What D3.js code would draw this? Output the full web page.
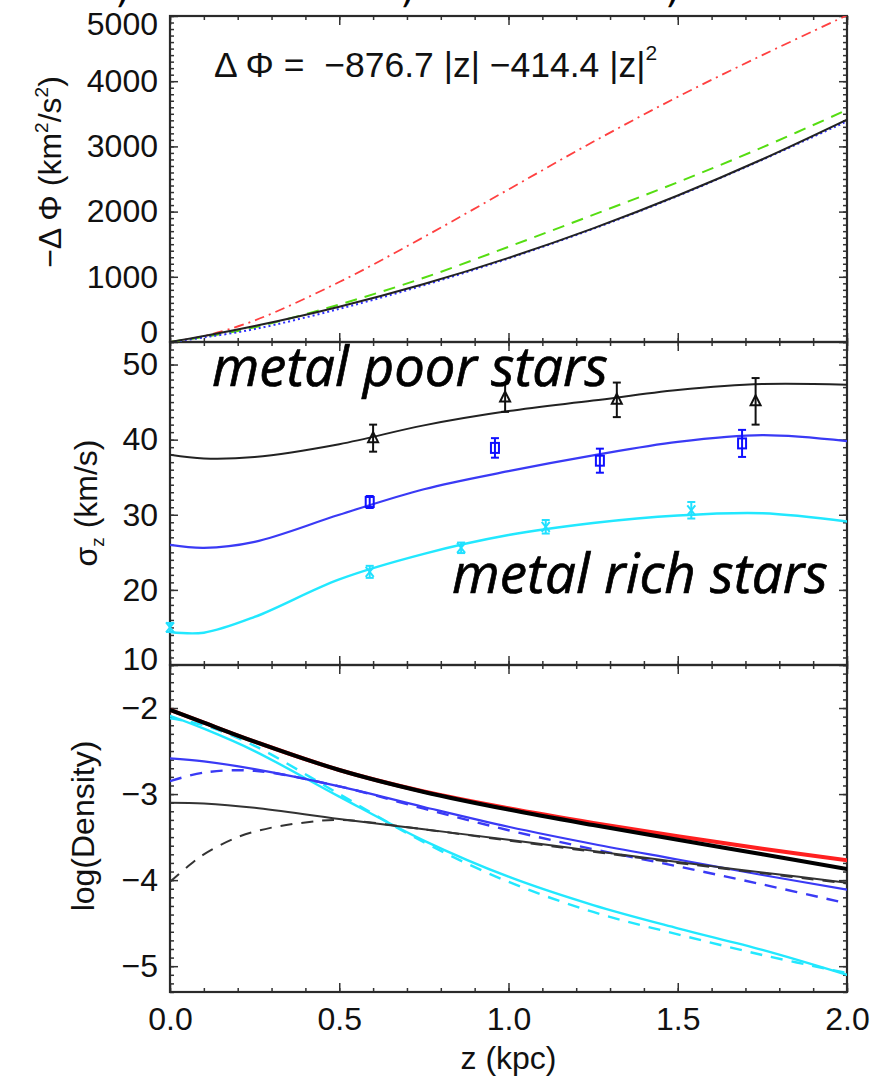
<!DOCTYPE html>
<html>
<head>
<meta charset="utf-8">
<script src="https://cdn.jsdelivr.net/npm/d3@7"></script>
<style>
  body { margin: 0; background: #fff; }
  svg { display: block; }
  text { font-family: "Liberation Sans", Arial, sans-serif; fill: #111; }
  .note { font-family: "Open Sans", sans-serif; font-style: italic; fill: #000; stroke: #000; stroke-width: 0.7; }
</style>
</head>
<body>
<svg id="chart" width="894" height="1076"></svg>
<script>
// ---------- shared x axis ----------
const xMajor = [0, 0.5, 1.0, 1.5, 2.0];

// ---------- top panel: -ΔΦ(z) ----------
const potZ = [0, 0.1, 0.25, 0.5, 0.75, 1.0, 1.25, 1.5, 1.75, 2.0];
const potFit = [0, 92, 245, 542, 890, 1291, 1743, 2247, 2803, 3411];
const potDotted = [0, 70, 198, 508, 870, 1280, 1735, 2240, 2795, 3385];
const potDashed = [0, 78, 225, 575, 985, 1460, 1950, 2450, 2985, 3560];
const potDashDot = [0, 90, 330, 920, 1610, 2340, 3070, 3760, 4400, 5010];
const potMajor = [0, 1000, 2000, 3000, 4000, 5000];

// ---------- middle panel: sigma_z(z) ----------
const sigZ = [0, 0.1, 0.25, 0.5, 0.75, 1.0, 1.25, 1.5, 1.75, 2.0];
const sigPoorFit = [38.0, 37.5, 37.7, 39.4, 41.9, 43.8, 45.2, 46.6, 47.4, 47.3];
const sigMidFit = [26.0, 25.6, 26.4, 30.0, 33.4, 35.8, 37.9, 39.7, 40.6, 39.8];
const sigRichFit = [14.4, 14.3, 16.4, 21.4, 24.8, 27.3, 28.9, 29.9, 30.2, 29.1];
const poorZ = [0.60, 0.99, 1.32, 1.73];
const poorSig = [40.2, 45.6, 45.3, 45.1];
const poorErr = [1.8, 1.9, 2.3, 3.1];
const midZ = [0.59, 0.96, 1.27, 1.69];
const midSig = [31.7, 38.9, 37.2, 39.5];
const midErr = [0.8, 1.3, 1.6, 1.8];
const richZ = [0.0, 0.59, 0.86, 1.11, 1.54];
const richSig = [15.0, 22.4, 25.6, 28.4, 30.6];
const richErr = [0.6, 0.8, 0.7, 0.9, 1.1];
const sigMajor = [10, 20, 30, 40, 50];

// ---------- bottom panel: log density(z) ----------
const denZ = [0, 0.1, 0.25, 0.5, 0.75, 1.0, 1.25, 1.5, 1.75, 2.0];
const denModel = [-2.02, -2.17, -2.39, -2.72, -2.97, -3.165, -3.335, -3.49, -3.635, -3.77];
const denTotal = [-2.02, -2.17, -2.39, -2.72, -2.975, -3.18, -3.36, -3.53, -3.70, -3.87];
const denPoor = [-3.10, -3.11, -3.16, -3.29, -3.41, -3.53, -3.66, -3.79, -3.91, -4.03];
const denMid = [-2.585, -2.62, -2.71, -2.91, -3.15, -3.38, -3.58, -3.76, -3.94, -4.11];
const denMidDash = [-2.85, -2.75, -2.73, -2.91, -3.17, -3.42, -3.64, -3.84, -4.05, -4.27];
const denRich = [-2.09, -2.24, -2.50, -3.03, -3.54, -3.96, -4.29, -4.56, -4.81, -5.10];
const denRichDash = [-2.12, -2.20, -2.44, -3.00, -3.56, -4.02, -4.37, -4.63, -4.87, -5.08];
const denPoorDashZ = [0, 0.05, 0.1, 0.2, 0.3, 0.4, 0.5, 0.75, 1.0, 1.25, 1.5, 1.75, 2.0];
const denPoorDash = [-4.02, -3.85, -3.70, -3.50, -3.39, -3.33, -3.30, -3.41, -3.54, -3.67, -3.80, -3.92, -4.04];
const denMajor = [-5, -4, -3, -2];

// ---------- layout ----------
const svg = d3.select("#chart");
const X0 = 170, X1 = 847;
const x = d3.scaleLinear().domain([0, 2]).range([X0, X1]);

const panels = [
  { id: "pot", top: 16, bottom: 342, domain: [0, 5000], major: potMajor, minorStep: 100, fmt: d3.format("d") },
  { id: "sig", top: 342, bottom: 665, domain: [10, 53], major: sigMajor, minorStep: 1, fmt: d3.format("d") },
  { id: "den", top: 665, bottom: 992, domain: [-5.3, -1.5], major: denMajor, minorStep: 0.1, fmt: d3.format("d") }
];
panels.forEach(p => {
  p.y = d3.scaleLinear().domain(p.domain).range([p.bottom, p.top]);
  const n0 = Math.ceil(p.domain[0] / p.minorStep - 1e-9), n1 = Math.floor(p.domain[1] / p.minorStep + 1e-9);
  p.minor = d3.range(n0, n1 + 1).map(k => +(k * p.minorStep).toFixed(4));
});
const xMinor = d3.range(0, 21).map(k => k / 10);

const defs = svg.append("defs");
panels.forEach(p => {
  defs.append("clipPath").attr("id", "clip-" + p.id)
    .append("rect").attr("x", X0).attr("y", p.top).attr("width", X1 - X0).attr("height", p.bottom - p.top);
});

// ---------- frames and ticks ----------
function drawAxes(p, isLast) {
  const g = svg.append("g");
  const stripDomain = s => s.select(".domain").remove();
  g.append("g").attr("transform", `translate(${X0},0)`)
    .call(d3.axisLeft(p.y).tickValues(p.minor).tickSize(-4).tickFormat("")).call(stripDomain);
  g.append("g").attr("transform", `translate(${X1},0)`)
    .call(d3.axisRight(p.y).tickValues(p.minor).tickSize(-4).tickFormat("")).call(stripDomain);
  const lab = g.append("g").attr("class", "ylab").attr("transform", `translate(${X0},0)`)
    .call(d3.axisLeft(p.y).tickValues(p.major).tickSize(-8).tickPadding(12).tickFormat(p.fmt)).call(stripDomain);
  // labels sitting on a panel edge are pulled inside the panel
  lab.selectAll(".tick").each(function (d) {
    const yy = p.y(d);
    const shift = yy - p.top < 6 ? 8 : (p.bottom - yy < 6 ? (p.id === "pot" ? -10 : -6) : 0);
    d3.select(this).select("text").attr("y", shift);
  });
  g.append("g").attr("transform", `translate(${X1},0)`)
    .call(d3.axisRight(p.y).tickValues(p.major).tickSize(-8).tickFormat("")).call(stripDomain);
  [[p.top, d3.axisTop], [p.bottom, d3.axisBottom]].forEach(([yy, ax]) => {
    g.append("g").attr("transform", `translate(0,${yy})`)
      .call(ax(x).tickValues(xMinor).tickSize(-4).tickFormat("")).call(stripDomain);
    const major = g.append("g").attr("transform", `translate(0,${yy})`)
      .call(ax(x).tickValues(xMajor).tickSize(-9).tickPadding(15)
        .tickFormat(isLast && ax === d3.axisBottom ? d3.format(".1f") : "")).call(stripDomain);
    if (isLast && ax === d3.axisBottom) major.attr("class", "xlab");
  });
  g.selectAll("line").attr("stroke", "#333").attr("stroke-width", 1.5);
  g.append("rect").attr("x", X0).attr("y", p.top).attr("width", X1 - X0).attr("height", p.bottom - p.top)
    .attr("fill", "none").attr("stroke", "#2a2a2a").attr("stroke-width", 2.2);
}
panels.forEach((p, i) => drawAxes(p, i === panels.length - 1));
svg.selectAll(".ylab text, .xlab text").attr("font-size", 32).attr("fill", "#111")
  .attr("font-family", "Liberation Sans, Arial, sans-serif");

// ---------- curves ----------
function curve(p, zs, vs, color, width, dash) {
  const line = d3.line().x((d, i) => x(zs[i])).y(d => p.y(d)).curve(d3.curveCatmullRom.alpha(0.5));
  svg.append("path").attr("clip-path", `url(#clip-${p.id})`)
    .attr("d", line(vs)).attr("fill", "none").attr("stroke", color)
    .attr("stroke-width", width).attr("stroke-dasharray", dash || null)
    .attr("stroke-linecap", dash ? "butt" : "round");
}
const [pPot, pSig, pDen] = panels;

curve(pPot, potZ, potDashDot, "#ff4040", 1.8, "10,5,2,5");
curve(pPot, potZ, potDashed, "#55dd11", 2, "12,8");
curve(pPot, potZ, potDotted, "#3030ff", 2, "2,3");
curve(pPot, potZ, potFit, "#222", 2);

curve(pSig, sigZ, sigPoorFit, "#222", 2);
curve(pSig, sigZ, sigMidFit, "#3a3af5", 2.2);
curve(pSig, sigZ, sigRichFit, "#22e8ff", 2.4);

curve(pDen, denZ, denRich, "#22e8ff", 2.4);
curve(pDen, denZ, denRichDash, "#22e8ff", 2.4, "12,9");
curve(pDen, denZ, denMid, "#3a3af5", 2.2);
curve(pDen, denZ, denMidDash, "#3a3af5", 2.4, "12,9");
curve(pDen, denZ, denPoor, "#333", 2);
curve(pDen, denPoorDashZ, denPoorDash, "#333", 2, "12,9");
curve(pDen, denZ, denModel, "#ff2020", 4);
curve(pDen, denZ, denTotal, "#000", 4);

// ---------- measurements with error bars ----------
function points(zs, vs, es, color, shape) {
  const g = svg.append("g").attr("stroke", color).attr("fill", "none").attr("stroke-width", 2);
  zs.forEach((z, i) => {
    const cx = x(z), cy = pSig.y(vs[i]);
    const ylo = pSig.y(vs[i] - es[i]), yhi = pSig.y(vs[i] + es[i]);
    g.append("line").attr("x1", cx).attr("x2", cx).attr("y1", ylo).attr("y2", yhi);
    g.append("line").attr("x1", cx - 4).attr("x2", cx + 4).attr("y1", ylo).attr("y2", ylo);
    g.append("line").attr("x1", cx - 4).attr("x2", cx + 4).attr("y1", yhi).attr("y2", yhi);
    if (shape === "triangle") {
      g.append("path").attr("d", `M${cx},${cy - 6}L${cx + 5},${cy + 4}L${cx - 5},${cy + 4}Z`);
    } else if (shape === "square") {
      g.append("rect").attr("x", cx - 4).attr("y", cy - 5).attr("width", 8).attr("height", 10);
    } else {
      g.append("path").attr("d", `M${cx - 4},${cy - 5}L${cx + 4},${cy + 5}M${cx + 4},${cy - 5}L${cx - 4},${cy + 5}`);
    }
  });
}
points(poorZ, poorSig, poorErr, "#111", "triangle");
points(midZ, midSig, midErr, "#1010ff", "square");
points(richZ, richSig, richErr, "#22e0ff", "cross");

// ---------- text ----------
const formula = svg.append("text").attr("x", 214).attr("y", 77).attr("font-size", 35.5)
  .style("white-space", "pre");
formula.append("tspan").text("\u0394 \u03A6 =  \u2212876.7 |z| \u2212414.4 |z|");
formula.append("tspan").attr("font-size", 21).attr("dy", -17).text("2");

function note(txt, x0, yb, targetW) {
  const t = svg.append("text").attr("class", "note").attr("x", x0).attr("y", yb).attr("font-size", 46).text(txt);
  const w = t.node().getComputedTextLength();
  t.attr("font-size", 46 * targetW / w);
}
note("metal poor stars", 212, 386, 396);
note("metal rich stars", 452, 593, 376);

// axis titles
const t1 = svg.append("text").attr("transform", "translate(61,172) rotate(-90)").attr("text-anchor", "middle").attr("font-size", 32);
t1.append("tspan").text("\u2212\u0394 \u03A6 (km");
t1.append("tspan").attr("font-size", 19).attr("dy", -13).text("2");
t1.append("tspan").attr("dy", 13).text("/s");
t1.append("tspan").attr("font-size", 19).attr("dy", -13).text("2");
t1.append("tspan").attr("dy", 13).text(")");

const t2 = svg.append("text").attr("transform", "translate(97,503) rotate(-90)").attr("text-anchor", "middle").attr("font-size", 32);
t2.append("tspan").text("\u03C3");
t2.append("tspan").attr("font-size", 19).attr("dy", 7).text("z");
t2.append("tspan").attr("dy", -7).text(" (km/s)");

svg.append("text").attr("transform", "translate(94,826) rotate(-90)").attr("text-anchor", "middle")
  .attr("font-size", 32).text("log(Density)");

svg.append("text").attr("x", (X0 + X1) / 2).attr("y", 1069).attr("text-anchor", "middle")
  .attr("font-size", 32).text("z (kpc)");

// fragments of the caption line above the figure
[120, 405, 670].forEach(cx => {
  svg.append("text").attr("class", "note").attr("x", cx).attr("y", 3).attr("font-size", 30).text(",");
});
</script>
</body>
</html>
